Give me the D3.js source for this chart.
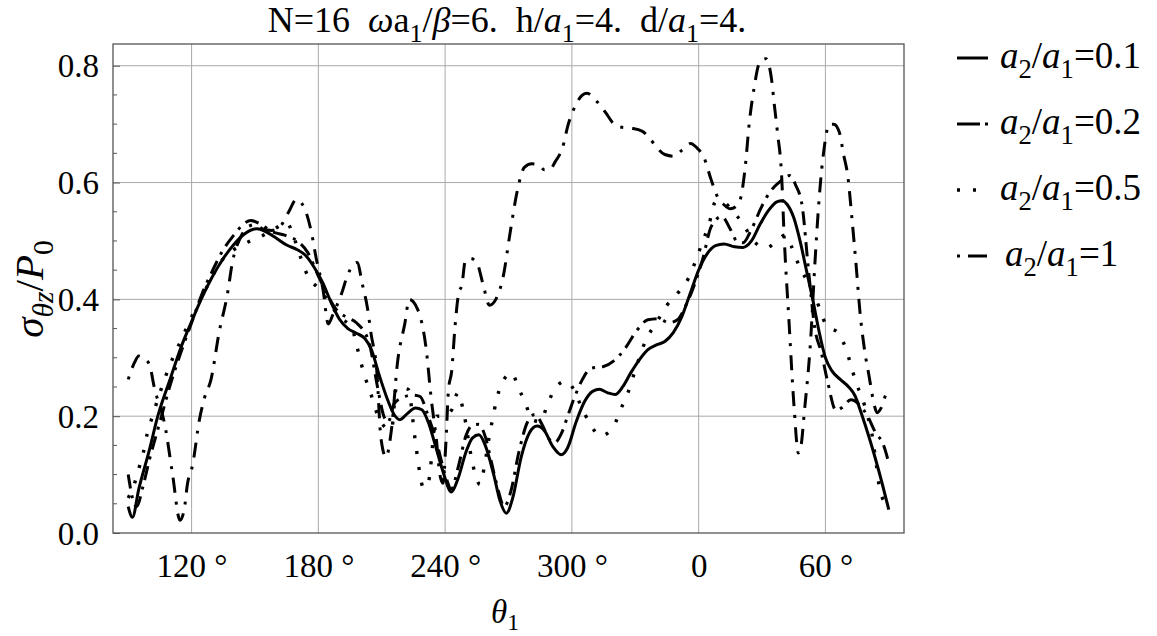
<!DOCTYPE html>
<html>
<head>
<meta http-equiv="Content-Type" content="text/html;charset=utf-8"/>
<title>sigma theta z / P0</title>
<script src="https://d3js.org/d3.v7.min.js"></script>
<style>
	body { margin: 0; background: #fff; }
	svg text { font-family: "Liberation Serif", "Times New Roman", serif; fill: #000; white-space: pre; }
	.grid line { stroke: #aaa; stroke-width: 1; }
	.frame { fill: none; stroke: #555; stroke-width: 1.3; }
	.curve { fill: none; stroke: #000; }
</style>
</head>
<body>
<script>

//Tick positions and labels (theta runs 90..450, 360+ shown as 0, 60)
var xTicks = [120, 180, 240, 300, 360, 420];
var xTickLabels = ["120 °", "180 °", "240 °", "300 °", "0", "60 °"];
var yTicks = [0, 0.2, 0.4, 0.6, 0.8];
var yTickLabels = ["0.0", "0.2", "0.4", "0.6", "0.8"];
var yMinorTicks = [0.05, 0.1, 0.15, 0.25, 0.3, 0.35, 0.45, 0.5, 0.55, 0.65, 0.7, 0.75];

//Series names (a2/a1)
var ratios = ["0.1", "0.2", "0.5", "1"];

//a2/a1 = 0.1  [theta, sigma/P0]
var s01 = [[90,0.045],[92,0.027],[95,0.075],[100,0.142],[104,0.2],[110,0.265],[115,0.318],[120,0.362],[124.5,0.4],
	[130,0.44],[135,0.47],[140,0.494],[145,0.512],[151,0.521],[155,0.516],[160,0.505],[165,0.493],[170,0.485],
	[174,0.475],[178,0.455],[182,0.429],[186,0.395],[190,0.366],[194,0.35],[198,0.342],[202,0.333],[205,0.315],
	[209,0.268],[213,0.226],[216,0.202],[218.6,0.194],[222,0.204],[226,0.214],[229,0.211],[232,0.19],[235,0.155],
	[239,0.105],[243,0.07],[246,0.092],[250,0.14],[253,0.163],[256,0.168],[259,0.15],[263,0.1],[266,0.055],
	[269,0.034],[272,0.06],[276,0.13],[280,0.172],[283.5,0.183],[287,0.175],[291,0.148],[295,0.134],[298,0.146],
	[302,0.19],[306,0.225],[310,0.243],[313,0.246],[317,0.24],[320.5,0.237],[324,0.25],[328,0.275],[332,0.297],
	[336,0.314],[340,0.322],[344,0.328],[348,0.343],[352,0.37],[356,0.41],[360,0.45],[364,0.478],[368,0.492],
	[372,0.495],[377,0.49],[381,0.489],[385,0.5],[389,0.528],[393,0.552],[397,0.567],[399.5,0.569],[402,0.562],
	[405,0.54],[408,0.5],[411,0.45],[414,0.4],[417,0.345],[420,0.3],[423,0.278],[427,0.263],[431,0.25],
	[434,0.235],[437,0.205],[441,0.16],[445,0.11],[450,0.04]];

//a2/a1 = 0.2
var s02 = [[90,0.10],[92,0.06],[94,0.045],[97,0.08],[100,0.125],[105,0.19],[110,0.255],[115,0.31],[120,0.36],
	[125,0.41],[130,0.45],[135,0.485],[140,0.51],[144,0.527],[148,0.535],[153,0.528],[158,0.516],[164,0.51],
	[170,0.5],[175,0.48],[180,0.44],[184,0.41],[188,0.385],[193,0.37],[198,0.36],[204,0.326],[208,0.25],
	[211,0.2],[213,0.19],[216,0.222],[220,0.232],[224,0.236],[228,0.234],[232,0.2],[236,0.155],[240,0.1],
	[243,0.075],[246,0.11],[250,0.168],[253,0.185],[256,0.186],[259,0.165],[262,0.12],[265,0.075],[268,0.045],
	[271,0.07],[275,0.14],[279,0.19],[282.5,0.203],[286,0.185],[289,0.162],[292,0.155],[295,0.17],[298,0.2],
	[301,0.23],[305,0.263],[309,0.282],[315,0.285],[320,0.295],[325,0.315],[331,0.348],[336,0.365],[341,0.367],
	[346,0.36],[350,0.365],[354,0.39],[358,0.425],[362,0.47],[366,0.525],[371,0.542],[375,0.52],[378,0.5],
	[381,0.497],[385,0.52],[390,0.56],[394,0.585],[398,0.6],[403,0.612],[406,0.595],[409,0.56],[412,0.45],
	[415,0.35],[418,0.31],[421,0.26],[425,0.21],[428,0.215],[432,0.228],[436,0.22],[440,0.2],[444,0.17],
	[447,0.155],[450,0.12]];

//a2/a1 = 0.5
var s05 = [[90,0.06],[93,0.085],[95,0.11],[97,0.135],[99,0.17],[101.5,0.2],[105,0.24],[110,0.29],[115,0.33],
	[120,0.37],[125,0.405],[129,0.434],[134,0.465],[140,0.485],[146,0.497],[153,0.508],[159,0.52],[165,0.531],
	[169,0.5],[172,0.468],[175,0.44],[180.6,0.417],[184,0.4],[190,0.37],[196,0.35],[198,0.323],[200,0.294],
	[202,0.268],[204.4,0.243],[208.3,0.2],[212,0.18],[214.6,0.177],[217,0.25],[222.5,0.246],[225.7,0.163],
	[228,0.103],[229.7,0.077],[232,0.086],[236,0.2],[239,0.2],[243,0.21],[246,0.24],[248.7,0.208],[252.6,0.126],
	[254.5,0.097],[256.5,0.083],[258.6,0.114],[261,0.168],[262.6,0.197],[264.2,0.226],[266.6,0.254],[271.6,0.274],
	[274.7,0.248],[278,0.223],[281,0.194],[285,0.191],[288.2,0.217],[291.3,0.243],[297,0.26],[301,0.245],
	[304,0.22],[308.8,0.186],[313.5,0.166],[319.8,0.183],[323,0.211],[326.2,0.237],[331,0.29],[335,0.33],
	[340,0.36],[345,0.39],[350,0.41],[355,0.435],[361,0.49],[365,0.53],[368,0.567],[372,0.566],[376,0.55],
	[380,0.535],[386,0.5],[392,0.488],[397,0.5],[401,0.51],[404,0.49],[407.6,0.457],[411.6,0.43],[415.6,0.4],
	[420.3,0.357],[426.6,0.34],[429.8,0.314],[432.2,0.286],[434.5,0.257],[437,0.235],[440,0.2],[442,0.17],
	[444,0.12],[446,0.07],[450,0.045]];

//a2/a1 = 1
var s1 = [[90,0.263],[93,0.292],[95,0.303],[97,0.3],[100,0.289],[102.3,0.25],[107.6,0.18],[111,0.1],[114.5,0.022],
	[116.5,0.04],[118,0.083],[120.5,0.117],[123.7,0.194],[126,0.23],[129.2,0.263],[133,0.343],[137,0.41],
	[139.3,0.463],[143,0.505],[147,0.525],[150,0.528],[154,0.52],[158,0.518],[162,0.525],[166,0.55],[169.6,0.571],
	[172,0.565],[174.3,0.548],[176.7,0.515],[179,0.47],[182.2,0.417],[184.7,0.358],[187,0.375],[191,0.41],
	[194,0.443],[198.3,0.463],[201,0.423],[203.2,0.386],[205,0.34],[207.6,0.28],[209.6,0.163],[212,0.13],
	[214.6,0.177],[217.4,0.29],[221,0.36],[223,0.4],[227,0.383],[231.2,0.31],[233.3,0.234],[236,0.155],
	[237.5,0.1],[239,0.085],[240.3,0.15],[241.6,0.245],[243.1,0.277],[244.7,0.354],[246.3,0.408],[248,0.426],
	[249.5,0.465],[252,0.47],[255,0.463],[258,0.425],[261,0.39],[264,0.4],[267.6,0.441],[270.8,0.515],
	[274.4,0.59],[277.5,0.626],[281,0.632],[284.2,0.63],[287,0.622],[289.8,0.623],[292,0.635],[295.6,0.66],
	[298.3,0.7],[301.6,0.731],[305,0.75],[307.2,0.753],[311,0.742],[315.9,0.72],[320,0.7],[323,0.695],
	[328,0.693],[333.2,0.688],[337,0.675],[340.2,0.66],[344,0.648],[348.3,0.645],[352,0.655],[356.3,0.667],
	[359,0.66],[362.5,0.643],[365.9,0.605],[369,0.575],[372,0.562],[375,0.555],[378,0.56],[380,0.575],
	[382,0.625],[384,0.703],[386.3,0.763],[388.6,0.803],[391.8,0.812],[394.5,0.777],[395.7,0.737],[397.3,0.686],
	[399.3,0.61],[400.4,0.514],[402.8,0.36],[405.2,0.214],[407.2,0.137],[408.5,0.15],[410,0.206],[413,0.33],
	[415,0.46],[417.2,0.58],[419.3,0.656],[421.9,0.7],[424,0.7],[426.6,0.686],[428.6,0.648],[430.6,0.611],
	[432.6,0.537],[434.5,0.46],[436.4,0.377],[438.5,0.314],[440.7,0.268],[442.5,0.23],[444.5,0.206],
	[446.5,0.215],[448.7,0.237],[450,0.24]];


var w = 1157, h = 636;
//plot box (note: 'top' is reserved on window, so use own names)
var pl = 113, pr = 904, pt = 44, pb = 533;

var svg = d3.select("body").append("svg")
	.attr("width", w)
	.attr("height", h);

var x = d3.scaleLinear().domain([82.8, 457.2]).range([pl, pr]);
var y = d3.scaleLinear().domain([0, 0.8372]).range([pb, pt]);

//Grid lines
var grid = svg.append("g").attr("class", "grid");
grid.selectAll("line.gx").data(xTicks).enter().append("line")
	.attr("x1", function(d) { return x(d); })
	.attr("x2", function(d) { return x(d); })
	.attr("y1", pt).attr("y2", pb);
grid.selectAll("line.gy").data(yTicks.slice(1)).enter().append("line")
	.attr("x1", pl).attr("x2", pr)
	.attr("y1", function(d) { return y(d); })
	.attr("y2", function(d) { return y(d); });

//Left axis with minor ticks pointing inward
var yAxis = d3.axisLeft(y).tickValues(yTicks)
	.tickFormat(function(d, i) { return yTickLabels[i]; })
	.tickSize(-7).tickPadding(14);
var gy = svg.append("g").attr("transform", "translate(" + pl + ",0)").call(yAxis);
gy.select(".domain").remove();
gy.selectAll("line").attr("stroke", "#555");
gy.selectAll("text").attr("font-size", 33).attr("font-family", "Liberation Serif").attr("dy", "0.34em");
svg.append("g").selectAll("line").data(yMinorTicks).enter().append("line")
	.attr("x1", pl).attr("x2", pl + 4)
	.attr("y1", function(d) { return y(d); })
	.attr("y2", function(d) { return y(d); })
	.attr("stroke", "#555");

//Bottom axis (labels only, the grid marks the ticks)
var xAxis = d3.axisBottom(x).tickValues(xTicks)
	.tickFormat(function(d, i) { return xTickLabels[i]; })
	.tickSize(0).tickPadding(21);
var gx = svg.append("g").attr("transform", "translate(0," + pb + ")").call(xAxis);
gx.select(".domain").remove();
gx.selectAll("text").attr("font-size", 33).attr("font-family", "Liberation Serif").attr("dy", "0.71em");

//Frame
svg.append("rect").attr("class", "frame")
	.attr("x", pl).attr("y", pt)
	.attr("width", pr - pl).attr("height", pb - pt);

//Curves
var line = d3.line()
	.x(function(d) { return x(d[0]); })
	.y(function(d) { return y(d[1]); })
	.curve(d3.curveMonotoneX);

var styles = [
	{ data: s01, width: 3, dash: null, legendDash: null },
	{ data: s02, width: 3, dash: "14,7,3,7", legendDash: "23,5,3,5" },
	{ data: s05, width: 3.4, dash: "3,13", legendDash: "3,13" },
	{ data: s1, width: 3, dash: "3,9,15,9", legendDash: "3,8,19,8" }
];

svg.append("g").selectAll("path").data(styles).enter().append("path")
	.attr("class", "curve")
	.attr("d", function(d) { return line(d.data); })
	.attr("stroke-width", function(d) { return d.width; })
	.attr("stroke-dasharray", function(d) { return d.dash; });

//Helper for text with italics and subscripts
function rich(t, parts, size, shift) {
	shift = shift || 0.28;
	parts.forEach(function(p) {
		var s = t.append("tspan").text(p[0]);
		if (p[1].indexOf("i") >= 0) s.attr("font-style", "italic");
		if (p[1].indexOf("s") >= 0) s.attr("font-size", size * 0.72).attr("dy", size * shift);
		if (p[1].indexOf("r") >= 0) s.attr("dy", -size * shift);
	});
}

//Title
var title = svg.append("text").attr("x", 507).attr("y", 32).attr("text-anchor", "middle").attr("font-size", 36);
rich(title, [["N=16  ", ""], ["ω", "i"], ["a", ""], ["1", "s"], ["/", "r"], ["β", "i"], ["=6.  h/", ""],
	["a", "i"], ["1", "s"], ["=4.  d/", "r"], ["a", "i"], ["1", "s"], ["=4.", "r"]], 36);

//Axis labels
var xl = svg.append("text").attr("x", 505).attr("y", 623).attr("text-anchor", "middle").attr("font-size", 33);
rich(xl, [["θ", "i"], ["1", "s"]], 33, 0.2);

var yl = svg.append("text").attr("transform", "translate(43,289) rotate(-90)")
	.attr("text-anchor", "middle").attr("font-size", 41);
rich(yl, [["σ", "i"], ["θz", "is"], ["/", "r"], ["P", "i"], ["0", "s"]], 41, 0.25);

//Legend
var lg = svg.append("g").selectAll("g").data(styles).enter().append("g")
	.attr("transform", function(d, i) { return "translate(957," + (58 + i * 66) + ")"; });
lg.append("line").attr("x1", 0).attr("x2", 31).attr("y1", 0).attr("y2", 0)
	.attr("stroke", "#000")
	.attr("stroke-width", function(d) { return d.width; })
	.attr("stroke-dasharray", function(d) { return d.legendDash; });
lg.each(function(d, i) {
	var t = d3.select(this).append("text").attr("x", i == 3 ? 48 : 43).attr("y", 10).attr("font-size", 37);
	rich(t, [["a", "i"], ["2", "s"], ["/", "r"], ["a", "i"], ["1", "s"], ["=" + ratios[i], "r"]], 37);
});

</script>
</body>
</html>
